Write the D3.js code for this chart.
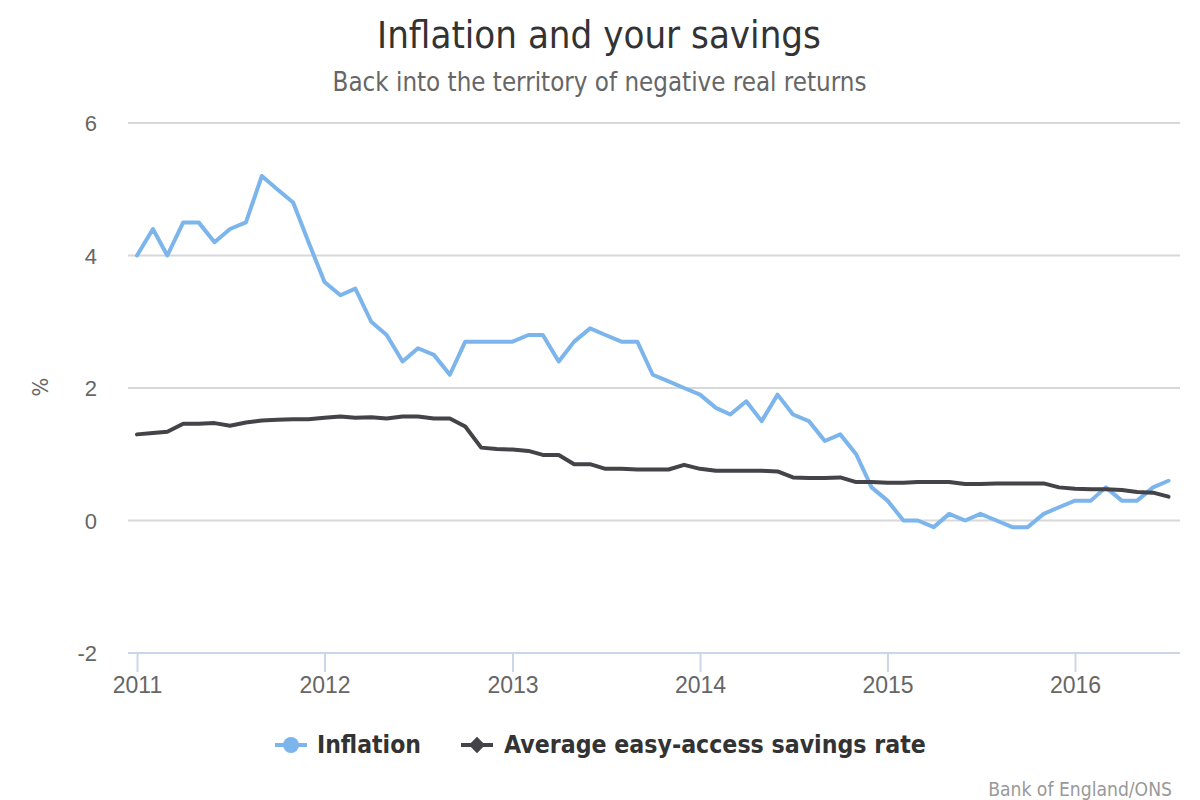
<!DOCTYPE html>
<html>
<head>
<meta charset="utf-8">
<script src="https://cdn.jsdelivr.net/npm/d3@7"></script>
<style>
  html, body { margin: 0; padding: 0; background: #ffffff; }
  svg { display: block; font-family: "DejaVu Sans Condensed", "DejaVu Sans", "Lucida Grande", sans-serif; font-stretch: condensed; }
</style>
</head>
<body>
<svg id="chart" width="1200" height="800"></svg>
<script>
// ---- data (monthly, Jan 2011 – Jul 2016) ----
const startYear = 2011;
const startMonth = 0;
const inflation = [
  4.0, 4.4, 4.0, 4.5, 4.5, 4.2, 4.4, 4.5, 5.2, 5.0, 4.8, 4.2,
  3.6, 3.4, 3.5, 3.0, 2.8, 2.4, 2.6, 2.5, 2.2, 2.7, 2.7, 2.7,
  2.7, 2.8, 2.8, 2.4, 2.7, 2.9, 2.8, 2.7, 2.7, 2.2, 2.1, 2.0,
  1.9, 1.7, 1.6, 1.8, 1.5, 1.9, 1.6, 1.5, 1.2, 1.3, 1.0, 0.5,
  0.3, 0.0, 0.0, -0.1, 0.1, 0.0, 0.1, 0.0, -0.1, -0.1, 0.1, 0.2,
  0.3, 0.3, 0.5, 0.3, 0.3, 0.5, 0.6
];
const savingsRate = [
  1.30, 1.32, 1.34, 1.46, 1.46, 1.47, 1.43, 1.48, 1.51, 1.52, 1.53, 1.53,
  1.55, 1.57, 1.55, 1.56, 1.54, 1.57, 1.57, 1.54, 1.54, 1.42, 1.10, 1.08,
  1.07, 1.05, 0.99, 0.99, 0.85, 0.85, 0.78, 0.78, 0.77, 0.77, 0.77, 0.84,
  0.78, 0.75, 0.75, 0.75, 0.75, 0.74, 0.65, 0.64, 0.64, 0.65, 0.58, 0.58,
  0.57, 0.57, 0.58, 0.58, 0.58, 0.55, 0.55, 0.56, 0.56, 0.56, 0.56, 0.50,
  0.48, 0.47, 0.47, 0.46, 0.43, 0.42, 0.36
];
const seriesNames = ["Inflation", "Average easy-access savings rate"];
const seriesColors = ["#7cb5ec", "#434348"];
const yTicks = [-2, 0, 2, 4, 6];
const xTickYears = [2011, 2012, 2013, 2014, 2015, 2016];
const titleText = "Inflation and your savings";
const subtitleText = "Back into the territory of negative real returns";
const yAxisTitle = "%";
const creditText = "Bank of England/ONS";

// ---- layout ----
const plot = { left: 128, right: 1180, top: 123, bottom: 653 };
const svg = d3.select("#chart");

const dates = inflation.map((_, i) => new Date(Date.UTC(startYear, startMonth + i, 1)));

const x = d3.scaleUtc()
  .domain([new Date(Date.UTC(2011, 0, 1)), new Date(Date.UTC(2016, 0, 1))])
  .range([137, 1075]);
const y = d3.scaleLinear().domain([-2, 6]).range([plot.bottom, plot.top]);

// fit a text to a target width by adjusting its font size
function fitWidth(sel, target) {
  const node = sel.node();
  const fs = parseFloat(sel.attr("font-size"));
  const w = node.getComputedTextLength();
  if (w > 0) sel.attr("font-size", (fs * target / w).toFixed(2));
  return sel;
}

// gridlines
svg.append("g").selectAll("line").data(yTicks.filter(t => t !== -2)).join("line")
  .attr("x1", plot.left).attr("x2", plot.right)
  .attr("y1", d => y(d)).attr("y2", d => y(d))
  .attr("stroke", "#d8d8d8").attr("stroke-width", 2);

// y axis labels
const yAxis = d3.axisLeft(y).tickValues(yTicks).tickSize(0).tickPadding(0).tickFormat(d => String(d));
const gy = svg.append("g").attr("transform", `translate(97,0)`).call(yAxis);
gy.select(".domain").remove();
gy.selectAll("text").attr("font-size", 22).attr("fill", "#666666")
  .attr("font-family", null).attr("dy", "0.36em");

// y axis title
svg.append("text")
  .attr("transform", `translate(48,${(plot.top + plot.bottom) / 2 - 1}) rotate(-90)`)
  .attr("text-anchor", "middle")
  .attr("font-size", 22).attr("fill", "#666666")
  .text(yAxisTitle);

// x axis
const xAxis = d3.axisBottom(x)
  .tickValues(xTickYears.map(yr => new Date(Date.UTC(yr, 0, 1))))
  .tickSize(19).tickPadding(1)
  .tickFormat(d3.utcFormat("%Y"));
const gx = svg.append("g").attr("transform", `translate(0,${plot.bottom})`).call(xAxis);
gx.select(".domain").remove();
gx.selectAll(".tick line").attr("stroke", "#ccd6eb").attr("stroke-width", 2);
gx.selectAll("text").attr("font-size", 23).attr("fill", "#666666")
  .attr("font-family", null).attr("dy", "0.85em");
svg.append("line")
  .attr("x1", plot.left).attr("x2", plot.right)
  .attr("y1", plot.bottom).attr("y2", plot.bottom)
  .attr("stroke", "#ccd6eb").attr("stroke-width", 2);

// lines
const series = [inflation, savingsRate];
const line = d3.line().x((d, i) => x(dates[i])).y(d => y(d));
svg.append("g").selectAll("path").data(series).join("path")
  .attr("d", d => line(d))
  .attr("fill", "none")
  .attr("stroke", (d, i) => seriesColors[i])
  .attr("stroke-width", 4)
  .attr("stroke-linejoin", "round")
  .attr("stroke-linecap", "round");

// title & subtitle
const title = svg.append("text").attr("x", 599).attr("y", 48)
  .attr("text-anchor", "middle").attr("font-size", 38).attr("fill", "#333333")
  .text(titleText);
fitWidth(title, 444);
const subtitle = svg.append("text").attr("x", 599.5).attr("y", 91)
  .attr("text-anchor", "middle").attr("font-size", 25).attr("fill", "#666666")
  .text(subtitleText);
fitWidth(subtitle, 534);

// legend
const legend = svg.append("g");
const legendY = 745;
const legendItems = [
  { sx: 275, tx: 317, sym: "circle", w: 104 },
  { sx: 461, tx: 504, sym: "diamond", w: 422 }
];
legendItems.forEach((it, i) => {
  legend.append("line")
    .attr("x1", it.sx).attr("x2", it.sx + 32)
    .attr("y1", legendY).attr("y2", legendY)
    .attr("stroke", seriesColors[i]).attr("stroke-width", 4);
  legend.append("path")
    .attr("transform", `translate(${it.sx + 16},${legendY})`)
    .attr("d", d3.symbol().type(it.sym === "circle" ? d3.symbolCircle : d3.symbolDiamond2).size(it.sym === "circle" ? 200 : 170)())
    .attr("fill", seriesColors[i]);
  const t = legend.append("text")
    .attr("x", it.tx).attr("y", legendY + 8)
    .attr("font-size", 23).attr("font-weight", 600).attr("fill", "#333333")
    .text(seriesNames[i]);
  fitWidth(t, it.w);
});

// credits
const credit = svg.append("text").attr("x", 1172).attr("y", 796)
  .attr("text-anchor", "end").attr("font-size", 19).attr("fill", "#999999")
  .text(creditText);
fitWidth(credit, 184);
</script>
</body>
</html>
